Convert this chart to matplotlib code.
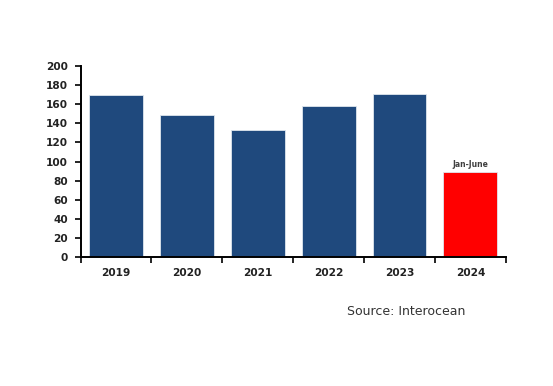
import matplotlib.pyplot as plt
import numpy as np

# data
years = ["2019", "2020", "2021", "2022", "2023", "2024"]
values = [170, 149, 133, 158, 171, 89]
colors = ["#1f497d"] * 5 + ["#ff0000"]
yticks = np.arange(0, 201, 20)

fig = plt.figure(figsize=(5.53, 3.86), dpi=100)
ax = fig.add_axes([0.1456, 0.334, 0.769, 0.495])

x = np.arange(len(years))
ax.bar(x, values, width=0.76, color=colors, edgecolor="#dfe6ee", linewidth=0.6)

# note above the partial-year bar
ax.text(x[-1], values[-1] + 3, "Jan-June", ha="center", va="bottom",
        fontsize=5.5, fontweight="bold", color="#404040", family="DejaVu Sans")

ax.set_xlim(-0.5, len(years) - 0.5)
ax.set_ylim(0, 200)
ax.set_yticks(yticks)
ax.set_xticks(x)
ax.set_xticklabels(years)
ax.set_xticks(np.arange(-0.5, len(years)), minor=True)
ax.tick_params(axis="x", which="major", length=0, pad=8)
ax.tick_params(axis="x", which="minor", length=4, width=1.2, direction="out")
ax.tick_params(axis="y", length=4, width=1.2, direction="out", pad=5)
for lab in ax.get_xticklabels() + ax.get_yticklabels():
    lab.set_fontsize(7.6)
    lab.set_fontweight("bold")
    lab.set_family("DejaVu Sans")
    lab.set_color("#222222")

ax.spines["top"].set_visible(False)
ax.spines["right"].set_visible(False)
ax.spines["left"].set_linewidth(1.4)
ax.spines["bottom"].set_linewidth(1.4)

fig.text(0.627, 0.193, "Source: Interocean", fontsize=9, color="#333333",
         family="DejaVu Sans", ha="left", va="center")

fig.savefig("out.png", dpi=100)
